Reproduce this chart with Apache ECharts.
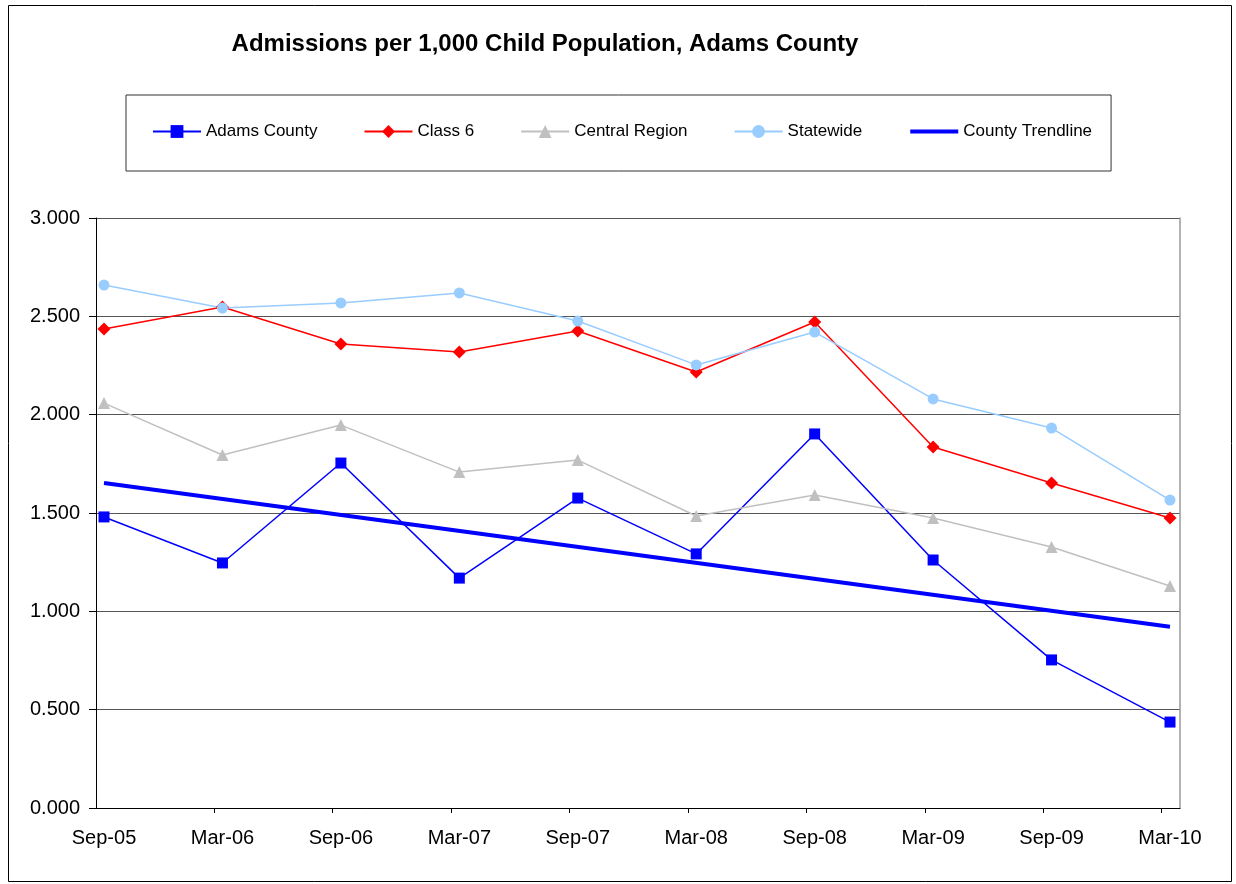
<!DOCTYPE html>
<html>
<head>
<meta charset="utf-8">
<script src="https://cdn.jsdelivr.net/npm/echarts@6/dist/echarts.min.js"></script>
<style>
  html, body { margin: 0; padding: 0; background: #fff; }
  #chart { width: 1236px; height: 884px; }
</style>
</head>
<body>
<div id="chart"></div>
<script>
// Reporting periods (half-years)
const categories = ['Sep-05', 'Mar-06', 'Sep-06', 'Mar-07', 'Sep-07', 'Mar-08', 'Sep-08', 'Mar-09', 'Sep-09', 'Mar-10'];

// Admissions per 1,000 child population
const adamsCounty   = [1.480, 1.246, 1.754, 1.169, 1.576, 1.292, 1.902, 1.261, 0.753, 0.437];
const class6        = [2.436, 2.547, 2.359, 2.319, 2.425, 2.217, 2.471, 1.836, 1.653, 1.475];
const centralRegion = [2.059, 1.795, 1.947, 1.708, 1.769, 1.485, 1.592, 1.475, 1.327, 1.129];
const statewide     = [2.659, 2.542, 2.568, 2.619, 2.476, 2.253, 2.420, 2.080, 1.932, 1.566];

// Linear trend of the county series: value at first and last period
const trendStart = 1.652;
const trendEnd   = 0.922;

// Y axis ticks
const yTicks = [0, 0.5, 1.0, 1.5, 2.0, 2.5, 3.0];

const FONT = 'Arial, "Liberation Sans", sans-serif';

const toPairs = arr => arr.map((v, i) => [i, v]);
const labelIdx = categories.map((_, i) => i);
const tickIdx = categories.map((_, i) => i - 0.07);

const chart = echarts.init(document.getElementById('chart'), null, { renderer: 'canvas' });

chart.setOption({
  backgroundColor: '#fff',
  animation: false,
  textStyle: { fontFamily: FONT, color: '#000' },
  title: {
    text: 'Admissions per 1,000 Child Population, Adams County',
    left: 540,
    textAlign: 'center',
    top: 27,
    textStyle: { fontFamily: FONT, fontSize: 24, fontWeight: 'bold', color: '#000' }
  },
  legend: {
    left: 126,
    top: 95,
    padding: [28, 19, 31, 26],
    borderColor: '#333',
    borderWidth: 1,
    itemWidth: 48,
    itemHeight: 16,
    itemGap: 46,
    textStyle: { fontFamily: FONT, fontSize: 17, color: '#000' },
    data: [
      'Adams County',
      'Class 6',
      'Central Region',
      'Statewide',
      { name: 'County Trendline', itemStyle: { opacity: 0 }, lineStyle: { width: 4 } }
    ]
  },
  grid: { left: 96, right: 56, top: 218, bottom: 76, containLabel: false },
  xAxis: {
    type: 'value',
    min: -0.0676,
    max: 9.0845,
    axisLine: { show: true, onZero: false, lineStyle: { color: '#000', width: 1 } },
    axisTick: { show: true, length: 5, lineStyle: { color: '#000' }, customValues: tickIdx },
    axisLabel: {
      customValues: labelIdx,
      margin: 20,
      fontFamily: FONT,
      fontSize: 20,
      color: '#000',
      formatter: v => categories[Math.round(v)]
    },
    splitLine: { show: false }
  },
  yAxis: [
    {
      type: 'value',
      min: yTicks[0],
      max: yTicks[yTicks.length - 1],
      interval: 0.5,
      axisLine: { show: true, onZero: false, lineStyle: { color: '#000', width: 1 } },
      axisTick: { show: true, length: 7, lineStyle: { color: '#000' } },
      axisLabel: {
        margin: 16,
        fontFamily: FONT,
        fontSize: 20,
        color: '#000',
        formatter: v => v.toFixed(3)
      },
      splitLine: { show: true, lineStyle: { color: '#555', width: 1 } }
    },
    {
      type: 'value',
      position: 'right',
      min: 0,
      max: 3,
      interval: 0.5,
      axisLine: { show: true, onZero: false, lineStyle: { color: '#999', width: 1.5 } },
      axisTick: { show: false },
      axisLabel: { show: false },
      splitLine: { show: false }
    }
  ],
  series: [
    {
      name: 'Adams County',
      type: 'line',
      data: toPairs(adamsCounty),
      symbol: 'rect',
      symbolSize: 11,
      lineStyle: { color: '#0000FF', width: 1.5 },
      itemStyle: { color: '#0000FF' }
    },
    {
      name: 'Class 6',
      type: 'line',
      data: toPairs(class6),
      symbol: 'diamond',
      symbolSize: 13,
      lineStyle: { color: '#FF0000', width: 1.5 },
      itemStyle: { color: '#FF0000' }
    },
    {
      name: 'Central Region',
      type: 'line',
      data: toPairs(centralRegion),
      symbol: 'triangle',
      symbolSize: 12,
      lineStyle: { color: '#C0C0C0', width: 1.5 },
      itemStyle: { color: '#C0C0C0' }
    },
    {
      name: 'Statewide',
      type: 'line',
      data: toPairs(statewide),
      symbol: 'circle',
      symbolSize: 11,
      lineStyle: { color: '#99CCFF', width: 1.5 },
      itemStyle: { color: '#99CCFF' }
    },
    {
      name: 'County Trendline',
      type: 'line',
      data: [[0, trendStart], [categories.length - 1, trendEnd]],
      symbol: 'none',
      lineStyle: { color: '#0000FF', width: 4 },
      itemStyle: { color: '#0000FF' }
    }
  ],
  graphic: [
    {
      type: 'rect',
      shape: { x: 8.5, y: 5.5, width: 1223, height: 876 },
      style: { fill: 'none', stroke: '#000', lineWidth: 1 },
      silent: true
    }
  ]
});
</script>
</body>
</html>
